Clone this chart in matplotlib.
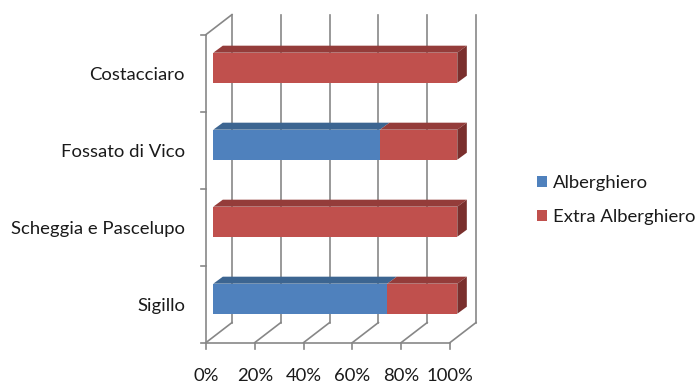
import matplotlib.pyplot as plt
from matplotlib.patches import Polygon, Patch

# data (share of beds, %)
comuni = ["Sigillo", "Scheggia e Pascelupo", "Fossato di Vico", "Costacciaro"]
alberghiero = [71.3, 0.0, 68.3, 0.0]
extra_alberghiero = [28.7, 100.0, 31.7, 100.0]
serie = ["Alberghiero", "Extra Alberghiero"]
xticks = [0, 20, 40, 60, 80, 100]

plt.rcParams['font.family'] = ['Lato', 'DejaVu Sans']

blue = '#4F81BD'
red = '#C0504D'
top_col = {blue: '#3C6591', red: '#943C3A'}
side_col = {blue: '#2F4F73', red: '#7A2F2D'}
grid = '#878787'
txt = '#1a1a1a'
fs = 13.3

fig = plt.figure(figsize=(6.99, 3.83), dpi=100)
ax = fig.add_axes([213.3 / 699, 45.8 / 383, 244 / 699, 308 / 383])
ax.set_xlim(0, 100)
ax.set_ylim(-0.5, 3.5)
ax.axis('off')

# depth offsets (in data units) of front wall, back wall and bar top
fx, fy = -3.0, -0.07
bx, by = 7.66, 0.19
tx, ty = 3.9, 0.091
h = 0.39

# back wall gridlines + floor diagonals
for t in xticks:
    ax.plot([t + bx, t + bx], [-0.5 + by, 3.5 + by], color=grid, lw=1.2,
            clip_on=False, zorder=1)
    ax.plot([t + fx, t + bx], [-0.5 + fy, -0.5 + by], color=grid, lw=1.2,
            clip_on=False, zorder=1)
    ax.plot([t + fx, t + fx], [-0.5 + fy, -0.5 + fy - 0.08], color=grid, lw=1.2,
            clip_on=False, zorder=5)
    ax.text(t + fx, -0.5 + fy - 0.44, f"{t}%", ha='center', va='center',
            fontsize=fs, color=txt)

# left wall
ax.plot([fx, fx], [-0.5 + fy, 3.5 + fy], color=grid, lw=1.2, clip_on=False, zorder=5)
ax.plot([fx, bx], [3.5 + fy, 3.5 + by], color=grid, lw=1.2, clip_on=False, zorder=1)
ax.plot([fx, 100 + fx], [-0.5 + fy, -0.5 + fy], color=grid, lw=1.2,
        clip_on=False, zorder=5)
for b in [-0.5, 0.5, 1.5, 2.5, 3.5]:
    ax.plot([fx - 2.2, fx], [b + fy, b + fy], color=grid, lw=1.2,
            clip_on=False, zorder=5)

# bars
for i, name in enumerate(comuni):
    left = 0.0
    segs = [(alberghiero[i], blue), (extra_alberghiero[i], red)]
    segs = [s for s in segs if s[0] > 0]
    for k, (v, c) in enumerate(segs):
        ax.barh(i, v, left=left, height=h, color=c, zorder=3)
        y1 = i + h / 2
        y0 = i - h / 2
        ax.add_patch(Polygon([(left, y1), (left + tx, y1 + ty),
                              (left + v + tx, y1 + ty), (left + v, y1)],
                             closed=True, facecolor=top_col[c], edgecolor='none',
                             zorder=3, clip_on=False))
        if k == len(segs) - 1:
            r = left + v
            ax.add_patch(Polygon([(r, y0), (r, y1), (r + tx, y1 + ty),
                                  (r + tx, y0 + ty)], closed=True,
                                 facecolor=side_col[c], edgecolor='none',
                                 zorder=3, clip_on=False))
        left += v
    ax.text(fx - 8.6, i + fy - 0.03, name, ha='right', va='center', fontsize=fs,
            color=txt)

handles = [Patch(facecolor=blue), Patch(facecolor=red)]
fig.legend(handles, serie, loc='center left', bbox_to_anchor=(537 / 699, 0.478),
           frameon=False, fontsize=fs, handlelength=0.55, handleheight=0.55,
           handletextpad=0.3, labelspacing=0.97, borderpad=0, borderaxespad=0,
           labelcolor=txt)

fig.savefig("out.png", dpi=100)
